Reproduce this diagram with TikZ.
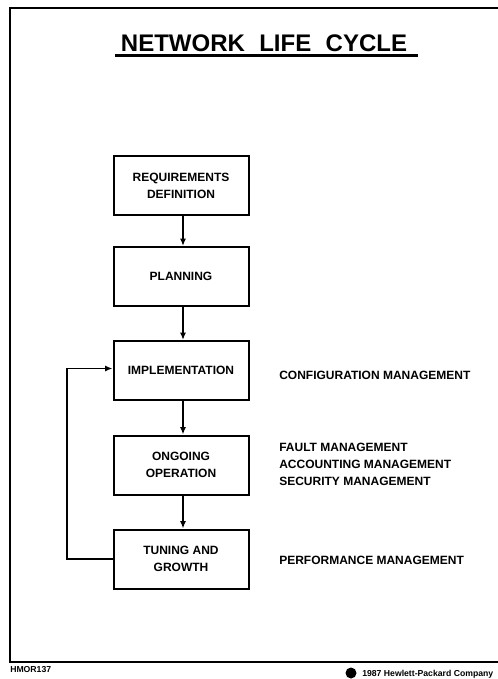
\documentclass[tikz,border=0pt]{standalone}
\usepackage{fontspec}
\setmainfont{Liberation Sans}
\usetikzlibrary{arrows.meta,calc}

\tikzset{
  stagebox/.style={draw, line width=1.5pt, minimum width=101.25pt, minimum height=44.25pt,
    inner sep=0pt, align=center, font=\fontsize{9pt}{12.75pt}\selectfont\bfseries},
  flow/.style={line width=1.4pt, -{Latex[length=5.5pt,width=4.5pt]}},
  mgmt/.style={anchor=west, inner sep=0pt, align=left,
    font=\fontsize{9pt}{13pt}\selectfont\bfseries},
  foot/.style={inner sep=0pt, anchor=base west, font=\fontsize{6.5pt}{8pt}\selectfont\bfseries},
}

\begin{document}
\begin{tikzpicture}[x=0.75pt, y=-0.75pt]
  \useasboundingbox (0,0) rectangle (498,679);
  \clip (0,0) rectangle (498,679);
  \fill[white] (0,0) rectangle (498,679);

  % page frame, open to the right
  \draw[line width=1.8pt] (520,8) -- (10,8) -- (10,662) -- (520,662);

  % heading
  \node[anchor=base, inner sep=0pt, font=\fontsize{18pt}{20pt}\selectfont\bfseries]
    (title) at (264,51) {NETWORK\hspace{0.6em}LIFE\hspace{0.6em}CYCLE};
  \draw[line width=1.6pt] (115,55.5) -- (418,55.5);

  % life-cycle stages
  \node[stagebox] (req)  at (181,185.5) {REQUIREMENTS\\DEFINITION};
  \node[stagebox] (plan) at (181,276.5) {PLANNING};
  \node[stagebox] (impl) at (181,370.5) {IMPLEMENTATION};
  \node[stagebox] (oper) at (181,465)   {ONGOING\\OPERATION};
  \node[stagebox] (tune) at (181,559)   {TUNING AND\\GROWTH};

  % forward flow
  \draw[flow] ([xshift=1.5pt]req.south)  -- ([xshift=1.5pt]plan.north);
  \draw[flow] ([xshift=1.5pt]plan.south) -- ([xshift=1.5pt]impl.north);
  \draw[flow] ([xshift=1.5pt]impl.south) -- ([xshift=1.5pt]oper.north);
  \draw[flow] ([xshift=1.5pt]oper.south) -- ([xshift=1.5pt]tune.north);

  % feedback loop
  \coordinate (loop) at (67,559);
  \draw[flow] (tune.west) -- (loop) |- ([yshift=1.5pt]impl.west);

  % management functions
  \node[mgmt] (cfg)  at (279,375) {CONFIGURATION MANAGEMENT};
  \node[mgmt] (fas)  at (279,464.5) {FAULT MANAGEMENT\\ACCOUNTING MANAGEMENT\\SECURITY MANAGEMENT};
  \node[mgmt] (perf) at (279,560) {PERFORMANCE MANAGEMENT};

  % footer
  \node[foot] (code) at (10,672) {HMOR137};
  \fill (351,673) circle[radius=5.5];
  \node[foot] (copy) at (362,676) {1987 Hewlett-Packard Company};
\end{tikzpicture}
\end{document}
